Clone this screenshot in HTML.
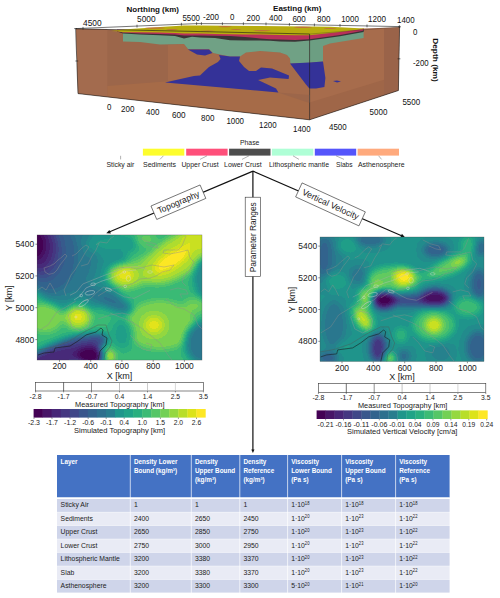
<!DOCTYPE html>
<html><head><meta charset="utf-8"><title>Figure</title>
<style>html,body{margin:0;padding:0;background:#fff;}body{width:500px;height:598px;overflow:hidden;font-family:"Liberation Sans", sans-serif;}svg{display:block;}text{font-family:"Liberation Sans", sans-serif;}</style></head><body>
<svg width="500" height="598" viewBox="0 0 500 598">
<rect width="500" height="598" fill="#fff"/>
<g id="box">
<polygon points="76.0,28.8 309.6,34.0 309.6,119.8 78.0,93.6" fill="#9C664A"/>
<polygon points="309.6,34.0 364.0,28.6 399.5,27.2 398.4,90.5 309.6,119.8" fill="#A76C4C"/>
<polygon points="76.0,28.8 107.4,29.5 107.4,96.9 78.0,93.6" fill="#A36B4E"/>
<polygon points="107.4,86.0 165.0,81.5 278.0,92.5 309.6,103.0 309.6,119.8 107.4,96.9" fill="#A66B48"/>
<polygon points="309.6,102.6 384.0,79.8 384.0,95.3 309.6,119.8" fill="#9F6648"/>
<polygon points="384.0,28.4 399.5,27.2 398.4,90.5 384.0,95.3" fill="#9A6349"/>
<polygon points="168.0,45.0 184.0,44.0 188.0,49.4 197.0,54.4 205.0,55.6 212.4,53.0 218.0,54.4 220.6,59.0 218.0,62.0 209.0,67.0 200.0,75.6 194.0,76.0 168.0,81.6" fill="#A56B4B"/>
<polygon points="246.0,52.6 260.0,51.0 280.0,52.6 287.0,55.0 290.0,58.4 290.4,63.6 298.0,74.0 306.0,84.4 309.4,88.4 309.4,95.0 278.4,92.4 276.0,88.4 258.0,80.0 270.0,77.6 288.6,79.0 289.0,75.6 272.0,68.4 261.0,67.6 256.0,71.0 249.0,71.0 244.0,67.0 239.0,61.0 240.0,56.6" fill="#A56B4B"/>
<polygon points="123.0,32.4 123.0,41.6 140.0,42.0 160.0,44.4 184.0,44.0 188.0,49.0 209.0,49.0 213.0,53.0 220.0,54.4 230.0,56.4 240.0,56.4 246.0,52.6 260.0,51.0 280.0,52.6 287.0,55.0 290.0,58.4 290.4,63.6 309.6,62.8 309.6,35.0 240.0,32.0 150.0,30.0" fill="#70A185"/>
<polygon points="309.6,34.0 309.6,62.8 323.0,61.6 323.0,46.0 330.0,43.6 363.6,38.0 363.6,30.0" fill="#6C9E82"/>
<polygon points="188.0,49.4 209.0,49.4 212.4,53.0 205.0,55.6 197.0,54.4" fill="#343298"/>
<polygon points="165.0,82.4 194.0,76.0 200.0,75.6 209.0,67.0 218.0,62.0 220.6,59.0 219.0,55.0 230.0,56.6 240.0,56.6 239.0,61.0 244.0,67.0 249.0,71.0 256.0,71.0 261.0,67.6 272.0,68.4 289.0,75.6 288.6,79.0 270.0,77.6 258.0,80.0 276.0,88.4 278.4,92.4" fill="#343298"/>
<polygon points="290.0,63.6 309.6,62.6 323.0,61.6 325.4,78.0 324.4,87.0 316.0,88.4 309.4,88.4 306.0,84.4 298.0,74.0" fill="#343298"/>
<polygon points="333.0,81.0 337.0,80.4 341.0,81.4 337.0,82.4" fill="#343298"/>
<polygon points="117.0,29.7 123.0,29.8 140.0,30.2 160.0,30.7 175.0,31.0 184.0,31.2 192.0,31.4 200.0,31.6 215.0,31.9 230.0,32.2 245.0,32.6 260.0,32.9 270.0,33.1 280.0,33.3 295.0,33.7 309.6,34.0 309.6,40.6 295.0,41.8 280.0,41.4 270.0,40.8 260.0,40.6 245.0,40.6 230.0,40.2 215.0,38.0 200.0,37.5 192.0,36.8 184.0,38.4 175.0,36.0 160.0,35.2 140.0,34.4 123.0,33.5 117.0,31.4" fill="#3A3436"/>
<polygon points="117.0,29.7 123.0,29.8 140.0,30.2 160.0,30.7 175.0,31.0 184.0,31.2 192.0,31.4 200.0,31.6 215.0,31.9 230.0,32.2 245.0,32.6 260.0,32.9 270.0,33.1 280.0,33.3 295.0,33.7 309.6,34.0 309.6,39.2 295.0,40.0 280.0,39.6 270.0,39.2 260.0,38.4 245.0,37.0 230.0,36.0 215.0,35.8 200.0,35.6 192.0,35.4 184.0,35.4 175.0,34.6 160.0,34.0 140.0,33.4 123.0,32.6 117.0,31.3" fill="#B8305A"/>
<polygon points="309.6,34.0 309.6,40.6 340.0,36.2 363.6,31.9 364.0,28.8" fill="#3A3436"/>
<polygon points="309.6,34.0 309.6,39.2 340.0,35.0 363.0,30.7 364.0,28.8" fill="#B8305A"/>
<polygon points="111.0,31.0 123.0,29.6 160.0,27.0 184.0,25.5 200.0,25.6 260.0,26.1 330.0,26.8 364.0,28.6 364.0,29.0 340.0,32.0 309.6,35.2 309.6,35.2 295.0,35.3 280.0,35.0 270.0,34.8 260.0,34.6 245.0,34.4 230.0,34.2 215.0,34.0 200.0,33.6 192.0,33.5 184.0,33.4 175.0,33.0 160.0,32.5 140.0,32.3 123.0,32.2 117.0,31.2" fill="#B7AC0E"/>
<ellipse cx="155" cy="28.0" rx="10" ry="0.8" fill="#C4445A" opacity="0.55"/>
<ellipse cx="172" cy="29.6" rx="6" ry="0.6" fill="#C4445A" opacity="0.55"/>
<ellipse cx="225" cy="26.6" rx="7" ry="0.6" fill="#C4445A" opacity="0.55"/>
<ellipse cx="303" cy="27.2" rx="9" ry="0.8" fill="#C4445A" opacity="0.55"/>
<ellipse cx="262" cy="30.6" rx="9" ry="0.6" fill="#C4445A" opacity="0.55"/>
<ellipse cx="236" cy="29.6" rx="5" ry="0.5" fill="#C4445A" opacity="0.55"/>
<ellipse cx="330" cy="28.4" rx="6" ry="0.5" fill="#C4445A" opacity="0.55"/>
<ellipse cx="208" cy="31.0" rx="7" ry="0.5" fill="#C4445A" opacity="0.55"/>
<polyline points="75.6,28.6 197.0,23.6 260.0,23.8 399.6,26.6" stroke="#1a1a1a" stroke-width="0.6" fill="none"/>
<polyline points="75.6,28.6 78.0,93.6 309.6,119.8 398.4,90.5 399.6,26.6" stroke="#1a1a1a" stroke-width="0.6" fill="none"/>
<polyline points="76.0,28.8 309.6,34.0 309.6,119.8" stroke="#1a1a1a" stroke-width="0.6" fill="none"/>
<polyline points="309.6,34.0 399.5,27.0" stroke="#1a1a1a" stroke-width="0.4" fill="none" opacity="0.6"/>
<line x1="83" y1="26.9" x2="83" y2="29.7" stroke="#1a1a1a" stroke-width="0.6"/>
<line x1="137" y1="24.7" x2="137" y2="27.5" stroke="#1a1a1a" stroke-width="0.6"/>
<line x1="181.4" y1="22.8" x2="181.4" y2="25.6" stroke="#1a1a1a" stroke-width="0.6"/>
<line x1="196.6" y1="22.2" x2="196.6" y2="25.0" stroke="#1a1a1a" stroke-width="0.6"/>
<line x1="201.4" y1="22.2" x2="201.4" y2="25.0" stroke="#1a1a1a" stroke-width="0.6"/>
<line x1="222.4" y1="22.3" x2="222.4" y2="25.1" stroke="#1a1a1a" stroke-width="0.6"/>
<line x1="243.4" y1="22.3" x2="243.4" y2="25.1" stroke="#1a1a1a" stroke-width="0.6"/>
<line x1="266" y1="22.5" x2="266" y2="25.3" stroke="#1a1a1a" stroke-width="0.6"/>
<line x1="289.4" y1="23.0" x2="289.4" y2="25.8" stroke="#1a1a1a" stroke-width="0.6"/>
<line x1="314.4" y1="23.5" x2="314.4" y2="26.3" stroke="#1a1a1a" stroke-width="0.6"/>
<line x1="340" y1="24.0" x2="340" y2="26.8" stroke="#1a1a1a" stroke-width="0.6"/>
<line x1="367" y1="24.5" x2="367" y2="27.3" stroke="#1a1a1a" stroke-width="0.6"/>
<line x1="399.4" y1="25.2" x2="399.4" y2="28.0" stroke="#1a1a1a" stroke-width="0.6"/>
<line x1="75.39999999999999" y1="61" x2="78.2" y2="61" stroke="#1a1a1a" stroke-width="0.6"/>
<line x1="397.6" y1="58.8" x2="400.4" y2="58.8" stroke="#1a1a1a" stroke-width="0.6"/>
<line x1="74.19999999999999" y1="28.6" x2="77.0" y2="28.6" stroke="#1a1a1a" stroke-width="0.6"/>
<line x1="398.20000000000005" y1="26.8" x2="401.0" y2="26.8" stroke="#1a1a1a" stroke-width="0.6"/>
<text x="83" y="26" font-size="8.3" text-anchor="start" font-weight="normal" fill="#111" textLength="18.6" lengthAdjust="spacingAndGlyphs" >4500</text>
<text x="137" y="22.4" font-size="8.3" text-anchor="start" font-weight="normal" fill="#111" textLength="18.6" lengthAdjust="spacingAndGlyphs" >5000</text>
<text x="182.4" y="21" font-size="8.3" text-anchor="start" font-weight="normal" fill="#111" textLength="17.6" lengthAdjust="spacingAndGlyphs" >5500</text>
<text x="203" y="20.2" font-size="8.3" text-anchor="start" font-weight="normal" fill="#111" textLength="16" lengthAdjust="spacingAndGlyphs" >-200</text>
<text x="230" y="20.2" font-size="8.3" text-anchor="start" font-weight="normal" fill="#111" textLength="4.4" lengthAdjust="spacingAndGlyphs" >0</text>
<text x="246.6" y="20.5" font-size="8.3" text-anchor="start" font-weight="normal" fill="#111" textLength="13.4" lengthAdjust="spacingAndGlyphs" >200</text>
<text x="269" y="21" font-size="8.3" text-anchor="start" font-weight="normal" fill="#111" textLength="13.4" lengthAdjust="spacingAndGlyphs" >400</text>
<text x="292.4" y="21.5" font-size="8.3" text-anchor="start" font-weight="normal" fill="#111" textLength="13.4" lengthAdjust="spacingAndGlyphs" >600</text>
<text x="317" y="21.7" font-size="8.3" text-anchor="start" font-weight="normal" fill="#111" textLength="13.4" lengthAdjust="spacingAndGlyphs" >800</text>
<text x="341.2" y="22" font-size="8.3" text-anchor="start" font-weight="normal" fill="#111" textLength="17.6" lengthAdjust="spacingAndGlyphs" >1000</text>
<text x="368" y="22.4" font-size="8.3" text-anchor="start" font-weight="normal" fill="#111" textLength="18" lengthAdjust="spacingAndGlyphs" >1200</text>
<text x="397" y="22.7" font-size="8.3" text-anchor="start" font-weight="normal" fill="#111" textLength="17.6" lengthAdjust="spacingAndGlyphs" >1400</text>
<text x="126.6" y="12.4" font-size="8" text-anchor="start" font-weight="bold" fill="#111" textLength="52.4" lengthAdjust="spacingAndGlyphs" >Northing (km)</text>
<text x="273" y="11.2" font-size="8" text-anchor="start" font-weight="bold" fill="#111" textLength="48.4" lengthAdjust="spacingAndGlyphs" >Easting (km)</text>
<text x="413" y="35.4" font-size="8.3" text-anchor="start" font-weight="normal" fill="#111" textLength="4.4" lengthAdjust="spacingAndGlyphs" >0</text>
<text x="413" y="66" font-size="8.3" text-anchor="start" font-weight="normal" fill="#111" textLength="15.6" lengthAdjust="spacingAndGlyphs" >-200</text>
<text x="402.4" y="104.6" font-size="8.3" text-anchor="start" font-weight="normal" fill="#111" textLength="17.8" lengthAdjust="spacingAndGlyphs" >5500</text>
<text x="369.6" y="115.4" font-size="8.3" text-anchor="start" font-weight="normal" fill="#111" textLength="17.8" lengthAdjust="spacingAndGlyphs" >5000</text>
<text x="329" y="129.6" font-size="8.3" text-anchor="start" font-weight="normal" fill="#111" textLength="17.6" lengthAdjust="spacingAndGlyphs" >4500</text>
<text x="107" y="109.6" font-size="8.3" text-anchor="start" font-weight="normal" fill="#111" textLength="4.4" lengthAdjust="spacingAndGlyphs" >0</text>
<text x="121" y="112.4" font-size="8.3" text-anchor="start" font-weight="normal" fill="#111" textLength="13.4" lengthAdjust="spacingAndGlyphs" >200</text>
<text x="146" y="115" font-size="8.3" text-anchor="start" font-weight="normal" fill="#111" textLength="13.4" lengthAdjust="spacingAndGlyphs" >400</text>
<text x="172" y="118" font-size="8.3" text-anchor="start" font-weight="normal" fill="#111" textLength="13.6" lengthAdjust="spacingAndGlyphs" >600</text>
<text x="201" y="121" font-size="8.3" text-anchor="start" font-weight="normal" fill="#111" textLength="13.4" lengthAdjust="spacingAndGlyphs" >800</text>
<text x="226.4" y="124" font-size="8.3" text-anchor="start" font-weight="normal" fill="#111" textLength="17.6" lengthAdjust="spacingAndGlyphs" >1000</text>
<text x="259" y="128" font-size="8.3" text-anchor="start" font-weight="normal" fill="#111" textLength="17.6" lengthAdjust="spacingAndGlyphs" >1200</text>
<text x="293" y="131.6" font-size="8.3" text-anchor="start" font-weight="normal" fill="#111" textLength="17.6" lengthAdjust="spacingAndGlyphs" >1400</text>
<text transform="translate(432.6,60) rotate(90)" font-size="8" font-weight="bold" text-anchor="middle" fill="#111" textLength="43.6" lengthAdjust="spacingAndGlyphs">Depth (km)</text>
</g>
<g id="legend">
<rect x="142.9" y="148.7" width="41.4" height="6.9" fill="#FDFD2D"/>
<rect x="186.2" y="148.7" width="41.4" height="6.9" fill="#FF4F7A"/>
<rect x="229.1" y="148.7" width="41.4" height="6.9" fill="#4D4D4D"/>
<rect x="271.9" y="148.7" width="41.4" height="6.9" fill="#AFFFD6"/>
<rect x="314.8" y="148.7" width="41.4" height="6.9" fill="#5555FB"/>
<rect x="357.6" y="148.7" width="41.4" height="6.9" fill="#FFAA7D"/>
<text x="249.7" y="145" font-size="7.8" text-anchor="middle" font-weight="normal" fill="#222" textLength="19.4" lengthAdjust="spacingAndGlyphs" >Phase</text>
<text x="106.4" y="166.6" font-size="7.6" text-anchor="start" font-weight="normal" fill="#222" textLength="28.0" lengthAdjust="spacingAndGlyphs" >Sticky air</text>
<text x="143" y="166.6" font-size="7.6" text-anchor="start" font-weight="normal" fill="#222" textLength="33" lengthAdjust="spacingAndGlyphs" >Sediments</text>
<text x="181.4" y="166.6" font-size="7.6" text-anchor="start" font-weight="normal" fill="#222" textLength="37.2" lengthAdjust="spacingAndGlyphs" >Upper Crust</text>
<text x="224" y="166.6" font-size="7.6" text-anchor="start" font-weight="normal" fill="#222" textLength="37.6" lengthAdjust="spacingAndGlyphs" >Lower Crust</text>
<text x="269" y="166.6" font-size="7.6" text-anchor="start" font-weight="normal" fill="#222" textLength="60" lengthAdjust="spacingAndGlyphs" >Lithospheric mantle</text>
<text x="336" y="166.6" font-size="7.6" text-anchor="start" font-weight="normal" fill="#222" textLength="16.6" lengthAdjust="spacingAndGlyphs" >Slabs</text>
<text x="358" y="166.6" font-size="7.6" text-anchor="start" font-weight="normal" fill="#222" textLength="46.6" lengthAdjust="spacingAndGlyphs" >Asthenosphere</text>
<line x1="120.6" y1="155.8" x2="120.6" y2="159.4" stroke="#666" stroke-width="0.5"/>
<line x1="163.4" y1="155.8" x2="160" y2="159.4" stroke="#666" stroke-width="0.5"/>
<line x1="207" y1="155.8" x2="200" y2="159.4" stroke="#666" stroke-width="0.5"/>
<line x1="249" y1="155.8" x2="242" y2="159.4" stroke="#666" stroke-width="0.5"/>
<line x1="293" y1="155.8" x2="299" y2="159.4" stroke="#666" stroke-width="0.5"/>
<line x1="336" y1="155.8" x2="344" y2="159.4" stroke="#666" stroke-width="0.5"/>
<line x1="378.6" y1="155.8" x2="381.6" y2="159.4" stroke="#666" stroke-width="0.5"/>
</g>
<g id="arrows">
<line x1="253" y1="171.1" x2="108.6" y2="232.3" stroke="#111" stroke-width="1.2"/>
<line x1="253" y1="171.1" x2="402.7" y2="236.2" stroke="#111" stroke-width="1.2"/>
<line x1="252.9" y1="171.1" x2="252.9" y2="450" stroke="#111" stroke-width="1.2"/>
<polygon points="106.3,233.3 110.9,233.4 109.4,229.9" fill="#111"/>
<polygon points="405.0,237.2 401.9,233.8 400.4,237.3" fill="#111"/>
<polygon points="252.9,453.0 254.5,449.4 251.3,449.4" fill="#111"/>
<g transform="translate(178.4,202.2) rotate(-23.2)"><rect x="-26.7" y="-7.3" width="53.4" height="14.6" fill="#fff" stroke="#333" stroke-width="0.6"/><text x="0" y="3.0" font-size="8.8" text-anchor="middle" font-weight="normal" fill="#222" textLength="45" lengthAdjust="spacingAndGlyphs" >Topography</text></g>
<g transform="translate(330.5,204.4) rotate(24.6)"><rect x="-34.8" y="-7.7" width="69.6" height="15.4" fill="#fff" stroke="#333" stroke-width="0.6"/><text x="0" y="3.0" font-size="8.8" text-anchor="middle" font-weight="normal" fill="#222" textLength="61.3" lengthAdjust="spacingAndGlyphs" >Vertical Velocity</text></g>
<rect x="245.2" y="197.2" width="15.3" height="79.3" fill="#fff" stroke="#333" stroke-width="0.6"/>
<g transform="translate(256,237.2) rotate(-90)"><text x="0" y="0" font-size="8.8" text-anchor="middle" font-weight="normal" fill="#222" textLength="70" lengthAdjust="spacingAndGlyphs" >Parameter Ranges</text></g>
</g>
<defs>
<clipPath id="cpL"><rect x="37.1" y="234.9" width="164.9" height="125.2"/></clipPath>
<clipPath id="cpR"><rect x="320" y="237" width="164" height="124.6"/></clipPath>
<filter id="fL" filterUnits="userSpaceOnUse" x="10" y="210" width="220" height="180" color-interpolation-filters="sRGB"><feGaussianBlur stdDeviation="3.6" result="b"/><feComponentTransfer><feFuncR type="discrete" tableValues="0.267 0.279 0.282 0.279 0.270 0.255 0.236 0.216 0.198 0.180 0.165 0.150 0.135 0.123 0.124 0.140 0.173 0.229 0.302 0.385 0.478 0.579 0.683 0.789 0.894 0.992"/><feFuncG type="discrete" tableValues="0.004 0.064 0.117 0.168 0.218 0.266 0.311 0.354 0.392 0.431 0.470 0.509 0.547 0.583 0.621 0.658 0.694 0.730 0.763 0.794 0.822 0.846 0.864 0.880 0.894 0.906"/><feFuncB type="discrete" tableValues="0.329 0.386 0.437 0.478 0.507 0.528 0.542 0.550 0.553 0.556 0.557 0.555 0.552 0.546 0.535 0.517 0.492 0.462 0.421 0.373 0.317 0.254 0.186 0.131 0.109 0.145"/></feComponentTransfer></filter>
<filter id="fR" filterUnits="userSpaceOnUse" x="295" y="210" width="215" height="180" color-interpolation-filters="sRGB"><feGaussianBlur stdDeviation="3.6" result="b"/><feComponentTransfer><feFuncR type="discrete" tableValues="0.267 0.279 0.282 0.279 0.270 0.255 0.236 0.216 0.198 0.180 0.165 0.150 0.135 0.123 0.124 0.140 0.173 0.229 0.302 0.385 0.478 0.579 0.683 0.789 0.894 0.992"/><feFuncG type="discrete" tableValues="0.004 0.064 0.117 0.168 0.218 0.266 0.311 0.354 0.392 0.431 0.470 0.509 0.547 0.583 0.621 0.658 0.694 0.730 0.763 0.794 0.822 0.846 0.864 0.880 0.894 0.906"/><feFuncB type="discrete" tableValues="0.329 0.386 0.437 0.478 0.507 0.528 0.542 0.550 0.553 0.556 0.557 0.555 0.552 0.546 0.535 0.517 0.492 0.462 0.421 0.373 0.317 0.254 0.186 0.131 0.109 0.145"/></feComponentTransfer></filter>
</defs>
<g clip-path="url(#cpL)">
<g filter="url(#fL)"><rect x="15" y="215" width="210" height="170" fill="rgb(168,168,168)"/><ellipse cx="77" cy="264" rx="50" ry="48" fill="rgb(128,128,128)" opacity="1" transform="rotate(0 77 264)"/><ellipse cx="60" cy="258" rx="38" ry="43" fill="rgb(107,107,107)" opacity="1" transform="rotate(0 60 258)"/><ellipse cx="50" cy="255" rx="27" ry="37" fill="rgb(82,82,82)" opacity="1" transform="rotate(0 50 255)"/><ellipse cx="43" cy="251" rx="19" ry="28" fill="rgb(56,56,56)" opacity="1" transform="rotate(0 43 251)"/><ellipse cx="39" cy="248" rx="15" ry="22" fill="rgb(28,28,28)" opacity="1" transform="rotate(0 39 248)"/><ellipse cx="36" cy="245" rx="9" ry="14" fill="rgb(0,0,0)" opacity="1" transform="rotate(0 36 245)"/><ellipse cx="112" cy="244" rx="26" ry="11" fill="rgb(138,138,138)" opacity="1" transform="rotate(0 112 244)"/><ellipse cx="146" cy="239" rx="11" ry="8" fill="rgb(189,189,189)" opacity="1" transform="rotate(0 146 239)"/><ellipse cx="150" cy="268" rx="30" ry="14" fill="rgb(199,199,199)" opacity="1" transform="rotate(-25 150 268)"/><ellipse cx="178" cy="256" rx="42" ry="20" fill="rgb(219,219,219)" opacity="1" transform="rotate(-33 178 256)"/><ellipse cx="195" cy="240" rx="14" ry="9" fill="rgb(235,235,235)" opacity="1" transform="rotate(0 195 240)"/><ellipse cx="172" cy="260" rx="21" ry="7.5" fill="rgb(255,255,255)" opacity="1" transform="rotate(-33 172 260)"/><ellipse cx="126" cy="276" rx="19" ry="13" fill="rgb(214,214,214)" opacity="1" transform="rotate(0 126 276)"/><ellipse cx="125" cy="275" rx="9" ry="7" fill="rgb(245,245,245)" opacity="1" transform="rotate(0 125 275)"/><ellipse cx="205" cy="278" rx="11" ry="20" fill="rgb(117,117,117)" opacity="1" transform="rotate(0 205 278)"/><ellipse cx="106" cy="299" rx="30" ry="8" fill="rgb(102,102,102)" opacity="1" transform="rotate(25 106 299)"/><ellipse cx="112" cy="301" rx="13" ry="8" fill="rgb(97,97,97)" opacity="1" transform="rotate(15 112 301)"/><ellipse cx="45" cy="318" rx="18" ry="15" fill="rgb(204,204,204)" opacity="1" transform="rotate(0 45 318)"/><ellipse cx="78" cy="317" rx="14" ry="12" fill="rgb(219,219,219)" opacity="1" transform="rotate(0 78 317)"/><ellipse cx="78" cy="317" rx="7" ry="6" fill="rgb(245,245,245)" opacity="1" transform="rotate(0 78 317)"/><ellipse cx="160" cy="325" rx="35" ry="25" fill="rgb(204,204,204)" opacity="1" transform="rotate(0 160 325)"/><ellipse cx="154" cy="325" rx="10" ry="9" fill="rgb(240,240,240)" opacity="1" transform="rotate(0 154 325)"/><ellipse cx="205" cy="343" rx="20" ry="22" fill="rgb(102,102,102)" opacity="1" transform="rotate(0 205 343)"/><ellipse cx="194" cy="306" rx="11" ry="8" fill="rgb(199,199,199)" opacity="1" transform="rotate(0 194 306)"/><ellipse cx="122" cy="334" rx="11" ry="15" fill="rgb(145,145,145)" opacity="1" transform="rotate(0 122 334)"/><ellipse cx="64" cy="353" rx="46" ry="12" fill="rgb(56,56,56)" opacity="1" transform="rotate(-20 64 353)"/><ellipse cx="60" cy="358" rx="40" ry="9" fill="rgb(31,31,31)" opacity="1" transform="rotate(-12 60 358)"/><ellipse cx="40" cy="362" rx="16" ry="7" fill="rgb(31,31,31)" opacity="1" transform="rotate(0 40 362)"/><ellipse cx="90" cy="356" rx="13" ry="10" fill="rgb(0,0,0)" opacity="1" transform="rotate(0 90 356)"/><ellipse cx="110" cy="356" rx="5" ry="5" fill="rgb(247,247,247)" opacity="1" transform="rotate(0 110 356)"/></g>
<g opacity="0.85"><polygon points="44.0,268.0 49.0,266.4 54.0,264.0 58.0,260.0 62.0,257.0 65.0,254.0 67.0,256.0 64.0,260.0 60.0,265.0 57.0,270.0 54.0,273.0 49.0,274.4 45.0,272.0" fill="none" stroke="#8e8e8e" stroke-width="0.5" stroke-linejoin="round"/><polyline points="72.0,256.0 76.0,254.0 82.0,248.0 86.0,245.0 89.0,247.0 85.0,253.0 81.0,260.0 78.0,265.0 75.0,270.0 71.0,275.0 68.0,282.0 64.0,290.0 66.0,296.0" fill="none" stroke="#8e8e8e" stroke-width="0.5" stroke-linejoin="round"/><polyline points="96.0,245.0 100.0,242.0 107.0,243.0 110.0,239.0 114.0,236.0" fill="none" stroke="#8e8e8e" stroke-width="0.5" stroke-linejoin="round"/><polyline points="81.0,266.0 88.0,264.0 92.0,256.0 96.0,250.0 99.0,243.0" fill="none" stroke="#8e8e8e" stroke-width="0.5" stroke-linejoin="round"/><polyline points="38.0,290.0 42.0,287.0 46.0,290.0 50.0,283.0 53.0,288.0 56.0,294.0" fill="none" stroke="#8e8e8e" stroke-width="0.5" stroke-linejoin="round"/><polyline points="186.0,236.0 182.0,246.0 178.0,250.0 164.0,250.0 163.0,253.0 170.0,254.0 180.0,252.0 188.0,250.0 190.0,258.0 194.0,262.0 190.0,270.0 184.0,276.0 182.0,282.0 186.0,286.0" fill="none" stroke="#8e8e8e" stroke-width="0.5" stroke-linejoin="round"/><polyline points="140.0,238.0 148.0,242.0 156.0,244.0 158.0,248.0 153.0,247.0 146.0,244.0" fill="none" stroke="#8e8e8e" stroke-width="0.5" stroke-linejoin="round"/><polyline points="110.0,270.0 118.0,268.0 128.0,267.0 136.0,269.0 144.0,267.0 152.0,265.0 158.0,266.0 164.0,267.0 174.0,265.0 170.0,270.0 162.0,272.0 156.0,276.0 150.0,278.0 140.0,279.0 132.0,284.0 120.0,287.0 108.0,290.0 98.0,296.0" fill="none" stroke="#8e8e8e" stroke-width="0.5" stroke-linejoin="round"/><polyline points="170.0,290.0 178.0,288.0 186.0,290.0 188.0,294.0 180.0,294.0 182.0,298.0" fill="none" stroke="#8e8e8e" stroke-width="0.5" stroke-linejoin="round"/><polyline points="38.0,355.0 44.0,353.0 54.0,352.0 55.0,348.0 70.0,346.0 78.0,341.0 86.0,335.0 96.0,332.0 101.0,328.0 103.0,330.0 102.0,335.0 107.0,338.0 106.0,345.0 100.0,351.0 98.0,360.0" fill="none" stroke="#1a1a1a" stroke-width="0.7" stroke-linejoin="round"/><polyline points="38.0,350.0 52.0,347.4 68.0,342.0 84.0,332.0 98.0,325.0 106.0,325.0 109.0,335.0 112.0,341.0 110.0,347.0 105.0,353.0 104.0,360.0" fill="none" stroke="#555" stroke-width="0.5" stroke-linejoin="round"/><polyline points="38.0,331.0 48.0,325.0 56.0,313.0 66.0,307.0 76.0,301.0" fill="none" stroke="#8e8e8e" stroke-width="0.5" stroke-linejoin="round"/><polygon points="68.0,315.0 76.0,309.0 86.0,311.0 90.0,319.0 88.0,327.0 80.0,331.0 72.0,327.0" fill="none" stroke="#9a9a9a" stroke-width="0.5" stroke-linejoin="round"/><polyline points="98.0,319.0 110.0,315.0 122.0,313.0 130.0,315.0" fill="none" stroke="#8e8e8e" stroke-width="0.5" stroke-linejoin="round"/><polyline points="106.0,353.0 110.0,349.0 114.0,353.0 115.0,360.0" fill="none" stroke="#8e8e8e" stroke-width="0.5" stroke-linejoin="round"/><polyline points="110.0,313.0 130.0,321.0 140.0,327.0 150.0,335.0 160.0,343.0 168.0,355.0 172.0,360.0" fill="none" stroke="#8e8e8e" stroke-width="0.5" stroke-linejoin="round"/><polyline points="166.0,299.0 176.0,307.0 184.0,309.0 194.0,315.0 198.0,325.0 202.0,329.0" fill="none" stroke="#8e8e8e" stroke-width="0.5" stroke-linejoin="round"/><polyline points="130.0,335.0 136.0,341.0 142.0,349.0 150.0,351.0 152.0,345.0 146.0,343.0" fill="none" stroke="#8e8e8e" stroke-width="0.5" stroke-linejoin="round"/><polyline points="70.0,295.2 76.4,292.0 82.8,284.0 90.8,280.8 98.8,277.6 106.8,274.4 116.4,271.2 124.4,268.0 137.2,266.4 146.8,269.6" fill="none" stroke="#a8a8a8" stroke-width="0.5" stroke-linejoin="round"/><polyline points="76.4,308.0 82.8,301.6 90.8,298.4 97.2,292.0 103.6,287.2 110.0,288.8 118.0,293.6 124.4,296.8 134.0,298.4 143.6,293.6 150.0,290.4" fill="none" stroke="#9a9a9a" stroke-width="0.5" stroke-linejoin="round"/><polyline points="74.0,300.0 80.0,296.0 86.0,288.0 94.0,284.5 102.0,281.0 110.0,278.5 118.0,275.0 126.0,271.0 136.0,270.0" fill="none" stroke="#c2c2c2" stroke-width="0.5" stroke-linejoin="round"/><ellipse cx="93.2" cy="284.3" rx="2.4" ry="1.3" fill="none" stroke="#dcdcdc" stroke-width="0.5" transform="rotate(0 93.2 284.3)"/><ellipse cx="90" cy="292.8" rx="4.8" ry="2" fill="none" stroke="#dcdcdc" stroke-width="0.5" transform="rotate(-10 90 292.8)"/><ellipse cx="83.6" cy="303.2" rx="5.6" ry="1.8" fill="none" stroke="#dcdcdc" stroke-width="0.5" transform="rotate(-35 83.6 303.2)"/><ellipse cx="108.4" cy="289.6" rx="3.2" ry="1.3" fill="none" stroke="#dcdcdc" stroke-width="0.5" transform="rotate(15 108.4 289.6)"/><ellipse cx="128.4" cy="278.4" rx="2.2" ry="2.8" fill="none" stroke="#dcdcdc" stroke-width="0.5" transform="rotate(0 128.4 278.4)"/><ellipse cx="125.2" cy="286.4" rx="1.3" ry="1.3" fill="none" stroke="#dcdcdc" stroke-width="0.5" transform="rotate(0 125.2 286.4)"/><ellipse cx="124.4" cy="272" rx="1.3" ry="1.3" fill="none" stroke="#dcdcdc" stroke-width="0.5" transform="rotate(0 124.4 272)"/><ellipse cx="81.2" cy="295.5" rx="1.3" ry="1.3" fill="none" stroke="#dcdcdc" stroke-width="0.5" transform="rotate(0 81.2 295.5)"/><ellipse cx="150" cy="272" rx="2.4" ry="1.2" fill="none" stroke="#dcdcdc" stroke-width="0.5" transform="rotate(0 150 272)"/><ellipse cx="76" cy="317" rx="1" ry="1" fill="none" stroke="#dcdcdc" stroke-width="0.5" transform="rotate(0 76 317)"/></g></g>
<g clip-path="url(#cpR)">
<g filter="url(#fR)"><rect x="298" y="215" width="210" height="170" fill="rgb(128,128,128)"/><ellipse cx="328" cy="262" rx="16" ry="28" fill="rgb(110,110,110)" opacity="1" transform="rotate(0 328 262)"/><ellipse cx="324" cy="256" rx="8" ry="20" fill="rgb(84,84,84)" opacity="1" transform="rotate(0 324 256)"/><ellipse cx="370" cy="240" rx="15" ry="6" fill="rgb(84,84,84)" opacity="1" transform="rotate(0 370 240)"/><ellipse cx="348" cy="246" rx="11" ry="7" fill="rgb(148,148,148)" opacity="1" transform="rotate(0 348 246)"/><ellipse cx="337" cy="281" rx="12" ry="9" fill="rgb(145,145,145)" opacity="1" transform="rotate(0 337 281)"/><ellipse cx="358" cy="275" rx="10" ry="10" fill="rgb(102,102,102)" opacity="1" transform="rotate(0 358 275)"/><ellipse cx="394" cy="279" rx="27" ry="13" fill="rgb(189,189,189)" opacity="1" transform="rotate(0 394 279)"/><ellipse cx="377" cy="287" rx="9" ry="8" fill="rgb(204,204,204)" opacity="1" transform="rotate(-40 377 287)"/><ellipse cx="366" cy="298" rx="7" ry="10" fill="rgb(209,209,209)" opacity="1" transform="rotate(-20 366 298)"/><ellipse cx="428" cy="275" rx="12" ry="5" fill="rgb(173,173,173)" opacity="1" transform="rotate(-15 428 275)"/><ellipse cx="450" cy="266" rx="22" ry="8" fill="rgb(191,191,191)" opacity="1" transform="rotate(-25 450 266)"/><ellipse cx="459" cy="262" rx="8" ry="5" fill="rgb(217,217,217)" opacity="1" transform="rotate(-25 459 262)"/><ellipse cx="468" cy="245" rx="8" ry="10" fill="rgb(166,166,166)" opacity="1" transform="rotate(0 468 245)"/><ellipse cx="404" cy="277" rx="10" ry="8" fill="rgb(255,255,255)" opacity="1" transform="rotate(0 404 277)"/><ellipse cx="436" cy="250" rx="13" ry="7" fill="rgb(76,76,76)" opacity="1" transform="rotate(0 436 250)"/><ellipse cx="481" cy="248" rx="5" ry="8" fill="rgb(76,76,76)" opacity="1" transform="rotate(0 481 248)"/><ellipse cx="479" cy="284" rx="8" ry="15" fill="rgb(76,76,76)" opacity="1" transform="rotate(0 479 284)"/><ellipse cx="410" cy="300.5" rx="38" ry="5.5" fill="rgb(51,51,51)" opacity="1" transform="rotate(0 410 300.5)"/><ellipse cx="384" cy="300" rx="12" ry="9" fill="rgb(0,0,0)" opacity="1" transform="rotate(0 384 300)"/><ellipse cx="435" cy="298" rx="15" ry="8.5" fill="rgb(10,10,10)" opacity="1" transform="rotate(0 435 298)"/><ellipse cx="363" cy="317" rx="10" ry="16" fill="rgb(178,178,178)" opacity="1" transform="rotate(-30 363 317)"/><ellipse cx="363" cy="319" rx="5.5" ry="12" fill="rgb(235,235,235)" opacity="1" transform="rotate(-30 363 319)"/><ellipse cx="434" cy="325" rx="22" ry="16" fill="rgb(178,178,178)" opacity="1" transform="rotate(0 434 325)"/><ellipse cx="434" cy="325" rx="9" ry="8" fill="rgb(237,237,237)" opacity="1" transform="rotate(0 434 325)"/><ellipse cx="468" cy="307" rx="14" ry="10" fill="rgb(173,173,173)" opacity="1" transform="rotate(0 468 307)"/><ellipse cx="478" cy="347" rx="12" ry="16" fill="rgb(82,82,82)" opacity="1" transform="rotate(0 478 347)"/><ellipse cx="378" cy="348" rx="8" ry="14" fill="rgb(38,38,38)" opacity="1" transform="rotate(0 378 348)"/><ellipse cx="390" cy="358" rx="4.5" ry="4.5" fill="rgb(245,245,245)" opacity="1" transform="rotate(0 390 358)"/><ellipse cx="401" cy="335" rx="7" ry="8" fill="rgb(168,168,168)" opacity="1" transform="rotate(0 401 335)"/><ellipse cx="334" cy="325" rx="12" ry="25" fill="rgb(102,102,102)" opacity="1" transform="rotate(0 334 325)"/><ellipse cx="346" cy="347" rx="10" ry="6" fill="rgb(140,140,140)" opacity="1" transform="rotate(0 346 347)"/><ellipse cx="328" cy="358" rx="10" ry="6" fill="rgb(76,76,76)" opacity="1" transform="rotate(0 328 358)"/><ellipse cx="404" cy="356" rx="6" ry="6" fill="rgb(84,84,84)" opacity="1" transform="rotate(0 404 356)"/><ellipse cx="441" cy="353" rx="10" ry="8" fill="rgb(107,107,107)" opacity="1" transform="rotate(0 441 353)"/></g>
<g opacity="0.8" transform="translate(282.7,1.9)"><polygon points="44.0,268.0 49.0,266.4 54.0,264.0 58.0,260.0 62.0,257.0 65.0,254.0 67.0,256.0 64.0,260.0 60.0,265.0 57.0,270.0 54.0,273.0 49.0,274.4 45.0,272.0" fill="none" stroke="#8e8e8e" stroke-width="0.5" stroke-linejoin="round"/><polyline points="72.0,256.0 76.0,254.0 82.0,248.0 86.0,245.0 89.0,247.0 85.0,253.0 81.0,260.0 78.0,265.0 75.0,270.0 71.0,275.0 68.0,282.0 64.0,290.0 66.0,296.0" fill="none" stroke="#8e8e8e" stroke-width="0.5" stroke-linejoin="round"/><polyline points="96.0,245.0 100.0,242.0 107.0,243.0 110.0,239.0 114.0,236.0" fill="none" stroke="#8e8e8e" stroke-width="0.5" stroke-linejoin="round"/><polyline points="81.0,266.0 88.0,264.0 92.0,256.0 96.0,250.0 99.0,243.0" fill="none" stroke="#8e8e8e" stroke-width="0.5" stroke-linejoin="round"/><polyline points="38.0,290.0 42.0,287.0 46.0,290.0 50.0,283.0 53.0,288.0 56.0,294.0" fill="none" stroke="#8e8e8e" stroke-width="0.5" stroke-linejoin="round"/><polyline points="186.0,236.0 182.0,246.0 178.0,250.0 164.0,250.0 163.0,253.0 170.0,254.0 180.0,252.0 188.0,250.0 190.0,258.0 194.0,262.0 190.0,270.0 184.0,276.0 182.0,282.0 186.0,286.0" fill="none" stroke="#8e8e8e" stroke-width="0.5" stroke-linejoin="round"/><polyline points="140.0,238.0 148.0,242.0 156.0,244.0 158.0,248.0 153.0,247.0 146.0,244.0" fill="none" stroke="#8e8e8e" stroke-width="0.5" stroke-linejoin="round"/><polyline points="110.0,270.0 118.0,268.0 128.0,267.0 136.0,269.0 144.0,267.0 152.0,265.0 158.0,266.0 164.0,267.0 174.0,265.0 170.0,270.0 162.0,272.0 156.0,276.0 150.0,278.0 140.0,279.0 132.0,284.0 120.0,287.0 108.0,290.0 98.0,296.0" fill="none" stroke="#8e8e8e" stroke-width="0.5" stroke-linejoin="round"/><polyline points="170.0,290.0 178.0,288.0 186.0,290.0 188.0,294.0 180.0,294.0 182.0,298.0" fill="none" stroke="#8e8e8e" stroke-width="0.5" stroke-linejoin="round"/><polyline points="38.0,355.0 44.0,353.0 54.0,352.0 55.0,348.0 70.0,346.0 78.0,341.0 86.0,335.0 96.0,332.0 101.0,328.0 103.0,330.0 102.0,335.0 107.0,338.0 106.0,345.0 100.0,351.0 98.0,360.0" fill="none" stroke="#1a1a1a" stroke-width="0.7" stroke-linejoin="round"/><polyline points="38.0,350.0 52.0,347.4 68.0,342.0 84.0,332.0 98.0,325.0 106.0,325.0 109.0,335.0 112.0,341.0 110.0,347.0 105.0,353.0 104.0,360.0" fill="none" stroke="#555" stroke-width="0.5" stroke-linejoin="round"/><polyline points="38.0,331.0 48.0,325.0 56.0,313.0 66.0,307.0 76.0,301.0" fill="none" stroke="#8e8e8e" stroke-width="0.5" stroke-linejoin="round"/><polygon points="68.0,315.0 76.0,309.0 86.0,311.0 90.0,319.0 88.0,327.0 80.0,331.0 72.0,327.0" fill="none" stroke="#9a9a9a" stroke-width="0.5" stroke-linejoin="round"/><polyline points="98.0,319.0 110.0,315.0 122.0,313.0 130.0,315.0" fill="none" stroke="#8e8e8e" stroke-width="0.5" stroke-linejoin="round"/><polyline points="106.0,353.0 110.0,349.0 114.0,353.0 115.0,360.0" fill="none" stroke="#8e8e8e" stroke-width="0.5" stroke-linejoin="round"/><polyline points="110.0,313.0 130.0,321.0 140.0,327.0 150.0,335.0 160.0,343.0 168.0,355.0 172.0,360.0" fill="none" stroke="#8e8e8e" stroke-width="0.5" stroke-linejoin="round"/><polyline points="166.0,299.0 176.0,307.0 184.0,309.0 194.0,315.0 198.0,325.0 202.0,329.0" fill="none" stroke="#8e8e8e" stroke-width="0.5" stroke-linejoin="round"/><polyline points="130.0,335.0 136.0,341.0 142.0,349.0 150.0,351.0 152.0,345.0 146.0,343.0" fill="none" stroke="#8e8e8e" stroke-width="0.5" stroke-linejoin="round"/><polyline points="70.0,295.2 76.4,292.0 82.8,284.0 90.8,280.8 98.8,277.6 106.8,274.4 116.4,271.2 124.4,268.0 137.2,266.4 146.8,269.6" fill="none" stroke="#a8a8a8" stroke-width="0.5" stroke-linejoin="round"/><polyline points="76.4,308.0 82.8,301.6 90.8,298.4 97.2,292.0 103.6,287.2 110.0,288.8 118.0,293.6 124.4,296.8 134.0,298.4 143.6,293.6 150.0,290.4" fill="none" stroke="#9a9a9a" stroke-width="0.5" stroke-linejoin="round"/><polyline points="74.0,300.0 80.0,296.0 86.0,288.0 94.0,284.5 102.0,281.0 110.0,278.5 118.0,275.0 126.0,271.0 136.0,270.0" fill="none" stroke="#c2c2c2" stroke-width="0.5" stroke-linejoin="round"/><ellipse cx="93.2" cy="284.3" rx="2.4" ry="1.3" fill="none" stroke="#dcdcdc" stroke-width="0.5" transform="rotate(0 93.2 284.3)"/><ellipse cx="90" cy="292.8" rx="4.8" ry="2" fill="none" stroke="#dcdcdc" stroke-width="0.5" transform="rotate(-10 90 292.8)"/><ellipse cx="83.6" cy="303.2" rx="5.6" ry="1.8" fill="none" stroke="#dcdcdc" stroke-width="0.5" transform="rotate(-35 83.6 303.2)"/><ellipse cx="108.4" cy="289.6" rx="3.2" ry="1.3" fill="none" stroke="#dcdcdc" stroke-width="0.5" transform="rotate(15 108.4 289.6)"/><ellipse cx="128.4" cy="278.4" rx="2.2" ry="2.8" fill="none" stroke="#dcdcdc" stroke-width="0.5" transform="rotate(0 128.4 278.4)"/><ellipse cx="125.2" cy="286.4" rx="1.3" ry="1.3" fill="none" stroke="#dcdcdc" stroke-width="0.5" transform="rotate(0 125.2 286.4)"/><ellipse cx="124.4" cy="272" rx="1.3" ry="1.3" fill="none" stroke="#dcdcdc" stroke-width="0.5" transform="rotate(0 124.4 272)"/><ellipse cx="81.2" cy="295.5" rx="1.3" ry="1.3" fill="none" stroke="#dcdcdc" stroke-width="0.5" transform="rotate(0 81.2 295.5)"/><ellipse cx="150" cy="272" rx="2.4" ry="1.2" fill="none" stroke="#dcdcdc" stroke-width="0.5" transform="rotate(0 150 272)"/><ellipse cx="76" cy="317" rx="1" ry="1" fill="none" stroke="#dcdcdc" stroke-width="0.5" transform="rotate(0 76 317)"/></g></g>
<rect x="37.1" y="234.9" width="164.9" height="125.2" fill="none" stroke="#444" stroke-width="0.4" opacity="0.7"/>
<rect x="320" y="237" width="164" height="124.6" fill="none" stroke="#444" stroke-width="0.4" opacity="0.7"/>
<text x="34.2" y="247.2" font-size="8.4" text-anchor="end" font-weight="normal" fill="#1a1a1a" textLength="18.8" lengthAdjust="spacingAndGlyphs" >5400</text>
<line x1="35.4" y1="244.2" x2="37.1" y2="244.2" stroke="#222" stroke-width="0.5"/>
<text x="34.2" y="278.9" font-size="8.4" text-anchor="end" font-weight="normal" fill="#1a1a1a" textLength="18.8" lengthAdjust="spacingAndGlyphs" >5200</text>
<line x1="35.4" y1="275.9" x2="37.1" y2="275.9" stroke="#222" stroke-width="0.5"/>
<text x="34.2" y="310.7" font-size="8.4" text-anchor="end" font-weight="normal" fill="#1a1a1a" textLength="18.8" lengthAdjust="spacingAndGlyphs" >5000</text>
<line x1="35.4" y1="307.7" x2="37.1" y2="307.7" stroke="#222" stroke-width="0.5"/>
<text x="34.2" y="342.6" font-size="8.4" text-anchor="end" font-weight="normal" fill="#1a1a1a" textLength="18.8" lengthAdjust="spacingAndGlyphs" >4800</text>
<line x1="35.4" y1="339.6" x2="37.1" y2="339.6" stroke="#222" stroke-width="0.5"/>
<text x="59.5" y="369.2" font-size="8.4" text-anchor="middle" font-weight="normal" fill="#1a1a1a" textLength="14.1" lengthAdjust="spacingAndGlyphs" >200</text>
<line x1="59.5" y1="360.1" x2="59.5" y2="361.8" stroke="#222" stroke-width="0.5"/>
<text x="90.7" y="369.2" font-size="8.4" text-anchor="middle" font-weight="normal" fill="#1a1a1a" textLength="14.1" lengthAdjust="spacingAndGlyphs" >400</text>
<line x1="90.7" y1="360.1" x2="90.7" y2="361.8" stroke="#222" stroke-width="0.5"/>
<text x="121.9" y="369.2" font-size="8.4" text-anchor="middle" font-weight="normal" fill="#1a1a1a" textLength="14.1" lengthAdjust="spacingAndGlyphs" >600</text>
<line x1="121.9" y1="360.1" x2="121.9" y2="361.8" stroke="#222" stroke-width="0.5"/>
<text x="153.2" y="369.2" font-size="8.4" text-anchor="middle" font-weight="normal" fill="#1a1a1a" textLength="14.1" lengthAdjust="spacingAndGlyphs" >800</text>
<line x1="153.2" y1="360.1" x2="153.2" y2="361.8" stroke="#222" stroke-width="0.5"/>
<text x="184.4" y="369.2" font-size="8.4" text-anchor="middle" font-weight="normal" fill="#1a1a1a" textLength="18.8" lengthAdjust="spacingAndGlyphs" >1000</text>
<line x1="184.4" y1="360.1" x2="184.4" y2="361.8" stroke="#222" stroke-width="0.5"/>
<text x="119.5" y="379.2" font-size="8.4" text-anchor="middle" font-weight="normal" fill="#1a1a1a" textLength="25.5" lengthAdjust="spacingAndGlyphs" >X [km]</text>
<g transform="translate(11.8,298) rotate(-90)"><text x="0" y="0" font-size="8.4" text-anchor="middle" font-weight="normal" fill="#1a1a1a" textLength="25.5" lengthAdjust="spacingAndGlyphs" >Y [km]</text></g>
<text x="317.1" y="249.1" font-size="8.4" text-anchor="end" font-weight="normal" fill="#1a1a1a" textLength="18.8" lengthAdjust="spacingAndGlyphs" >5400</text>
<line x1="318.3" y1="246.1" x2="320" y2="246.1" stroke="#222" stroke-width="0.5"/>
<text x="317.1" y="280.8" font-size="8.4" text-anchor="end" font-weight="normal" fill="#1a1a1a" textLength="18.8" lengthAdjust="spacingAndGlyphs" >5200</text>
<line x1="318.3" y1="277.8" x2="320" y2="277.8" stroke="#222" stroke-width="0.5"/>
<text x="317.1" y="312.5" font-size="8.4" text-anchor="end" font-weight="normal" fill="#1a1a1a" textLength="18.8" lengthAdjust="spacingAndGlyphs" >5000</text>
<line x1="318.3" y1="309.5" x2="320" y2="309.5" stroke="#222" stroke-width="0.5"/>
<text x="317.1" y="344.3" font-size="8.4" text-anchor="end" font-weight="normal" fill="#1a1a1a" textLength="18.8" lengthAdjust="spacingAndGlyphs" >4800</text>
<line x1="318.3" y1="341.3" x2="320" y2="341.3" stroke="#222" stroke-width="0.5"/>
<text x="342" y="371" font-size="8.4" text-anchor="middle" font-weight="normal" fill="#1a1a1a" textLength="14.1" lengthAdjust="spacingAndGlyphs" >200</text>
<line x1="342" y1="361.6" x2="342" y2="363.3" stroke="#222" stroke-width="0.5"/>
<text x="373.3" y="371" font-size="8.4" text-anchor="middle" font-weight="normal" fill="#1a1a1a" textLength="14.1" lengthAdjust="spacingAndGlyphs" >400</text>
<line x1="373.3" y1="361.6" x2="373.3" y2="363.3" stroke="#222" stroke-width="0.5"/>
<text x="404.7" y="371" font-size="8.4" text-anchor="middle" font-weight="normal" fill="#1a1a1a" textLength="14.1" lengthAdjust="spacingAndGlyphs" >600</text>
<line x1="404.7" y1="361.6" x2="404.7" y2="363.3" stroke="#222" stroke-width="0.5"/>
<text x="436" y="371" font-size="8.4" text-anchor="middle" font-weight="normal" fill="#1a1a1a" textLength="14.1" lengthAdjust="spacingAndGlyphs" >800</text>
<line x1="436" y1="361.6" x2="436" y2="363.3" stroke="#222" stroke-width="0.5"/>
<text x="467.4" y="371" font-size="8.4" text-anchor="middle" font-weight="normal" fill="#1a1a1a" textLength="18.8" lengthAdjust="spacingAndGlyphs" >1000</text>
<line x1="467.4" y1="361.6" x2="467.4" y2="363.3" stroke="#222" stroke-width="0.5"/>
<text x="402" y="380.3" font-size="8.4" text-anchor="middle" font-weight="normal" fill="#1a1a1a" textLength="25.5" lengthAdjust="spacingAndGlyphs" >X [km]</text>
<g transform="translate(295,299.5) rotate(-90)"><text x="0" y="0" font-size="8.4" text-anchor="middle" font-weight="normal" fill="#1a1a1a" textLength="25.5" lengthAdjust="spacingAndGlyphs" >Y [km]</text></g>
<rect x="35.6" y="382.4" width="167.8" height="8.6" fill="#fff" stroke="#333" stroke-width="0.6"/>
<line x1="35.6" y1="391" x2="35.6" y2="392.4" stroke="#333" stroke-width="0.5"/>
<text x="35.6" y="398.8" font-size="6.6" text-anchor="middle" font-weight="normal" fill="#1a1a1a" textLength="12" lengthAdjust="spacingAndGlyphs" >-2.8</text>
<line x1="63.6" y1="382.4" x2="63.6" y2="391" stroke="#111" stroke-width="0.6"/>
<line x1="63.6" y1="391" x2="63.6" y2="392.4" stroke="#333" stroke-width="0.5"/>
<text x="63.6" y="398.8" font-size="6.6" text-anchor="middle" font-weight="normal" fill="#1a1a1a" textLength="12" lengthAdjust="spacingAndGlyphs" >-1.7</text>
<line x1="91.5" y1="382.4" x2="91.5" y2="391" stroke="#444" stroke-width="0.6"/>
<line x1="91.5" y1="391" x2="91.5" y2="392.4" stroke="#333" stroke-width="0.5"/>
<text x="91.5" y="398.8" font-size="6.6" text-anchor="middle" font-weight="normal" fill="#1a1a1a" textLength="12" lengthAdjust="spacingAndGlyphs" >-0.7</text>
<line x1="119.5" y1="382.4" x2="119.5" y2="391" stroke="#999" stroke-width="0.6"/>
<line x1="119.5" y1="391" x2="119.5" y2="392.4" stroke="#333" stroke-width="0.5"/>
<text x="119.5" y="398.8" font-size="6.6" text-anchor="middle" font-weight="normal" fill="#1a1a1a" textLength="9.4" lengthAdjust="spacingAndGlyphs" >0.4</text>
<line x1="147.5" y1="382.4" x2="147.5" y2="391" stroke="#aaa" stroke-width="0.6"/>
<line x1="147.5" y1="391" x2="147.5" y2="392.4" stroke="#333" stroke-width="0.5"/>
<text x="147.5" y="398.8" font-size="6.6" text-anchor="middle" font-weight="normal" fill="#1a1a1a" textLength="9.4" lengthAdjust="spacingAndGlyphs" >1.4</text>
<line x1="175.4" y1="382.4" x2="175.4" y2="391" stroke="#bbb" stroke-width="0.6"/>
<line x1="175.4" y1="391" x2="175.4" y2="392.4" stroke="#333" stroke-width="0.5"/>
<text x="175.4" y="398.8" font-size="6.6" text-anchor="middle" font-weight="normal" fill="#1a1a1a" textLength="9.4" lengthAdjust="spacingAndGlyphs" >2.5</text>
<line x1="203.4" y1="391" x2="203.4" y2="392.4" stroke="#333" stroke-width="0.5"/>
<text x="203.4" y="398.8" font-size="6.6" text-anchor="middle" font-weight="normal" fill="#1a1a1a" textLength="9.4" lengthAdjust="spacingAndGlyphs" >3.5</text>
<text x="119.8" y="406.6" font-size="7" text-anchor="middle" font-weight="normal" fill="#1a1a1a" textLength="89.5" lengthAdjust="spacingAndGlyphs" >Measured Topography [km]</text>
<rect x="318.4" y="383.6" width="167.4" height="9.0" fill="#fff" stroke="#333" stroke-width="0.6"/>
<line x1="318.4" y1="392.6" x2="318.4" y2="394.0" stroke="#333" stroke-width="0.5"/>
<text x="318.4" y="400.2" font-size="6.6" text-anchor="middle" font-weight="normal" fill="#1a1a1a" textLength="12" lengthAdjust="spacingAndGlyphs" >-2.8</text>
<line x1="346.3" y1="383.6" x2="346.3" y2="392.6" stroke="#111" stroke-width="0.6"/>
<line x1="346.3" y1="392.6" x2="346.3" y2="394.0" stroke="#333" stroke-width="0.5"/>
<text x="346.3" y="400.2" font-size="6.6" text-anchor="middle" font-weight="normal" fill="#1a1a1a" textLength="12" lengthAdjust="spacingAndGlyphs" >-1.7</text>
<line x1="374.2" y1="383.6" x2="374.2" y2="392.6" stroke="#444" stroke-width="0.6"/>
<line x1="374.2" y1="392.6" x2="374.2" y2="394.0" stroke="#333" stroke-width="0.5"/>
<text x="374.2" y="400.2" font-size="6.6" text-anchor="middle" font-weight="normal" fill="#1a1a1a" textLength="12" lengthAdjust="spacingAndGlyphs" >-0.7</text>
<line x1="402.1" y1="383.6" x2="402.1" y2="392.6" stroke="#999" stroke-width="0.6"/>
<line x1="402.1" y1="392.6" x2="402.1" y2="394.0" stroke="#333" stroke-width="0.5"/>
<text x="402.1" y="400.2" font-size="6.6" text-anchor="middle" font-weight="normal" fill="#1a1a1a" textLength="9.4" lengthAdjust="spacingAndGlyphs" >0.4</text>
<line x1="430.0" y1="383.6" x2="430.0" y2="392.6" stroke="#aaa" stroke-width="0.6"/>
<line x1="430.0" y1="392.6" x2="430.0" y2="394.0" stroke="#333" stroke-width="0.5"/>
<text x="430.0" y="400.2" font-size="6.6" text-anchor="middle" font-weight="normal" fill="#1a1a1a" textLength="9.4" lengthAdjust="spacingAndGlyphs" >1.4</text>
<line x1="457.9" y1="383.6" x2="457.9" y2="392.6" stroke="#bbb" stroke-width="0.6"/>
<line x1="457.9" y1="392.6" x2="457.9" y2="394.0" stroke="#333" stroke-width="0.5"/>
<text x="457.9" y="400.2" font-size="6.6" text-anchor="middle" font-weight="normal" fill="#1a1a1a" textLength="9.4" lengthAdjust="spacingAndGlyphs" >2.5</text>
<line x1="485.8" y1="392.6" x2="485.8" y2="394.0" stroke="#333" stroke-width="0.5"/>
<text x="485.8" y="400.2" font-size="6.6" text-anchor="middle" font-weight="normal" fill="#1a1a1a" textLength="9.4" lengthAdjust="spacingAndGlyphs" >3.5</text>
<text x="402.7" y="407.8" font-size="7" text-anchor="middle" font-weight="normal" fill="#1a1a1a" textLength="89.5" lengthAdjust="spacingAndGlyphs" >Measured Topography [km]</text>
<rect x="33.60" y="409" width="9.34" height="8.6" fill="#440154"/>
<rect x="42.64" y="409" width="9.34" height="8.6" fill="#481567"/>
<rect x="51.68" y="409" width="9.34" height="8.6" fill="#482677"/>
<rect x="60.73" y="409" width="9.34" height="8.6" fill="#453781"/>
<rect x="69.77" y="409" width="9.34" height="8.6" fill="#404788"/>
<rect x="78.81" y="409" width="9.34" height="8.6" fill="#39568C"/>
<rect x="87.85" y="409" width="9.34" height="8.6" fill="#33638D"/>
<rect x="96.89" y="409" width="9.34" height="8.6" fill="#2D708E"/>
<rect x="105.94" y="409" width="9.34" height="8.6" fill="#287D8E"/>
<rect x="114.98" y="409" width="9.34" height="8.6" fill="#1F968B"/>
<rect x="124.02" y="409" width="9.34" height="8.6" fill="#20A387"/>
<rect x="133.06" y="409" width="9.34" height="8.6" fill="#29AF7F"/>
<rect x="142.11" y="409" width="9.34" height="8.6" fill="#3CBB75"/>
<rect x="151.15" y="409" width="9.34" height="8.6" fill="#55C667"/>
<rect x="160.19" y="409" width="9.34" height="8.6" fill="#73D055"/>
<rect x="169.23" y="409" width="9.34" height="8.6" fill="#95D840"/>
<rect x="178.27" y="409" width="9.34" height="8.6" fill="#B8DE29"/>
<rect x="187.32" y="409" width="9.34" height="8.6" fill="#DCE319"/>
<rect x="196.36" y="409" width="9.34" height="8.6" fill="#FDE725"/>
<line x1="34.0" y1="417.6" x2="34.0" y2="419.0" stroke="#333" stroke-width="0.5"/>
<text x="34.0" y="425.2" font-size="6.6" text-anchor="middle" font-weight="normal" fill="#1a1a1a" textLength="12" lengthAdjust="spacingAndGlyphs" >-2.3</text>
<line x1="52.0" y1="417.6" x2="52.0" y2="419.0" stroke="#333" stroke-width="0.5"/>
<text x="52.0" y="425.2" font-size="6.6" text-anchor="middle" font-weight="normal" fill="#1a1a1a" textLength="12" lengthAdjust="spacingAndGlyphs" >-1.7</text>
<line x1="70.1" y1="417.6" x2="70.1" y2="419.0" stroke="#333" stroke-width="0.5"/>
<text x="70.1" y="425.2" font-size="6.6" text-anchor="middle" font-weight="normal" fill="#1a1a1a" textLength="12" lengthAdjust="spacingAndGlyphs" >-1.2</text>
<line x1="88.2" y1="417.6" x2="88.2" y2="419.0" stroke="#333" stroke-width="0.5"/>
<text x="88.2" y="425.2" font-size="6.6" text-anchor="middle" font-weight="normal" fill="#1a1a1a" textLength="12" lengthAdjust="spacingAndGlyphs" >-0.6</text>
<line x1="106.2" y1="417.6" x2="106.2" y2="419.0" stroke="#333" stroke-width="0.5"/>
<text x="106.2" y="425.2" font-size="6.6" text-anchor="middle" font-weight="normal" fill="#1a1a1a" textLength="12" lengthAdjust="spacingAndGlyphs" >-0.1</text>
<line x1="124.2" y1="417.6" x2="124.2" y2="419.0" stroke="#333" stroke-width="0.5"/>
<text x="124.2" y="425.2" font-size="6.6" text-anchor="middle" font-weight="normal" fill="#1a1a1a" textLength="9.4" lengthAdjust="spacingAndGlyphs" >0.4</text>
<line x1="142.3" y1="417.6" x2="142.3" y2="419.0" stroke="#333" stroke-width="0.5"/>
<text x="142.3" y="425.2" font-size="6.6" text-anchor="middle" font-weight="normal" fill="#1a1a1a" textLength="9.4" lengthAdjust="spacingAndGlyphs" >1.0</text>
<line x1="160.4" y1="417.6" x2="160.4" y2="419.0" stroke="#333" stroke-width="0.5"/>
<text x="160.4" y="425.2" font-size="6.6" text-anchor="middle" font-weight="normal" fill="#1a1a1a" textLength="9.4" lengthAdjust="spacingAndGlyphs" >1.5</text>
<line x1="178.4" y1="417.6" x2="178.4" y2="419.0" stroke="#333" stroke-width="0.5"/>
<text x="178.4" y="425.2" font-size="6.6" text-anchor="middle" font-weight="normal" fill="#1a1a1a" textLength="9.4" lengthAdjust="spacingAndGlyphs" >2.0</text>
<line x1="196.5" y1="417.6" x2="196.5" y2="419.0" stroke="#333" stroke-width="0.5"/>
<text x="196.5" y="425.2" font-size="6.6" text-anchor="middle" font-weight="normal" fill="#1a1a1a" textLength="9.4" lengthAdjust="spacingAndGlyphs" >2.6</text>
<text x="119.5" y="433.0" font-size="7" text-anchor="middle" font-weight="normal" fill="#1a1a1a" textLength="91" lengthAdjust="spacingAndGlyphs" >Simulated Topography [km]</text>
<rect x="316.60" y="410.4" width="9.29" height="8.6" fill="#440154"/>
<rect x="325.59" y="410.4" width="9.29" height="8.6" fill="#481567"/>
<rect x="334.58" y="410.4" width="9.29" height="8.6" fill="#482677"/>
<rect x="343.57" y="410.4" width="9.29" height="8.6" fill="#453781"/>
<rect x="352.56" y="410.4" width="9.29" height="8.6" fill="#404788"/>
<rect x="361.55" y="410.4" width="9.29" height="8.6" fill="#39568C"/>
<rect x="370.54" y="410.4" width="9.29" height="8.6" fill="#33638D"/>
<rect x="379.53" y="410.4" width="9.29" height="8.6" fill="#2D708E"/>
<rect x="388.52" y="410.4" width="9.29" height="8.6" fill="#287D8E"/>
<rect x="397.51" y="410.4" width="9.29" height="8.6" fill="#1F968B"/>
<rect x="406.49" y="410.4" width="9.29" height="8.6" fill="#20A387"/>
<rect x="415.48" y="410.4" width="9.29" height="8.6" fill="#29AF7F"/>
<rect x="424.47" y="410.4" width="9.29" height="8.6" fill="#3CBB75"/>
<rect x="433.46" y="410.4" width="9.29" height="8.6" fill="#55C667"/>
<rect x="442.45" y="410.4" width="9.29" height="8.6" fill="#73D055"/>
<rect x="451.44" y="410.4" width="9.29" height="8.6" fill="#95D840"/>
<rect x="460.43" y="410.4" width="9.29" height="8.6" fill="#B8DE29"/>
<rect x="469.42" y="410.4" width="9.29" height="8.6" fill="#DCE319"/>
<rect x="478.41" y="410.4" width="9.29" height="8.6" fill="#FDE725"/>
<line x1="325.6" y1="419" x2="325.6" y2="420.4" stroke="#333" stroke-width="0.5"/>
<text x="325.6" y="426.6" font-size="6.6" text-anchor="middle" font-weight="normal" fill="#1a1a1a" textLength="16" lengthAdjust="spacingAndGlyphs" >-0.21</text>
<line x1="343.5" y1="419" x2="343.5" y2="420.4" stroke="#333" stroke-width="0.5"/>
<text x="343.5" y="426.6" font-size="6.6" text-anchor="middle" font-weight="normal" fill="#1a1a1a" textLength="16" lengthAdjust="spacingAndGlyphs" >-0.16</text>
<line x1="361.4" y1="419" x2="361.4" y2="420.4" stroke="#333" stroke-width="0.5"/>
<text x="361.4" y="426.6" font-size="6.6" text-anchor="middle" font-weight="normal" fill="#1a1a1a" textLength="16" lengthAdjust="spacingAndGlyphs" >-0.11</text>
<line x1="379.3" y1="419" x2="379.3" y2="420.4" stroke="#333" stroke-width="0.5"/>
<text x="379.3" y="426.6" font-size="6.6" text-anchor="middle" font-weight="normal" fill="#1a1a1a" textLength="16" lengthAdjust="spacingAndGlyphs" >-0.06</text>
<line x1="397.2" y1="419" x2="397.2" y2="420.4" stroke="#333" stroke-width="0.5"/>
<text x="397.2" y="426.6" font-size="6.6" text-anchor="middle" font-weight="normal" fill="#1a1a1a" textLength="16" lengthAdjust="spacingAndGlyphs" >-0.01</text>
<line x1="415.1" y1="419" x2="415.1" y2="420.4" stroke="#333" stroke-width="0.5"/>
<text x="415.1" y="426.6" font-size="6.6" text-anchor="middle" font-weight="normal" fill="#1a1a1a" textLength="13" lengthAdjust="spacingAndGlyphs" >0.04</text>
<line x1="433.0" y1="419" x2="433.0" y2="420.4" stroke="#333" stroke-width="0.5"/>
<text x="433.0" y="426.6" font-size="6.6" text-anchor="middle" font-weight="normal" fill="#1a1a1a" textLength="13" lengthAdjust="spacingAndGlyphs" >0.09</text>
<line x1="450.9" y1="419" x2="450.9" y2="420.4" stroke="#333" stroke-width="0.5"/>
<text x="450.9" y="426.6" font-size="6.6" text-anchor="middle" font-weight="normal" fill="#1a1a1a" textLength="13" lengthAdjust="spacingAndGlyphs" >0.14</text>
<line x1="468.8" y1="419" x2="468.8" y2="420.4" stroke="#333" stroke-width="0.5"/>
<text x="468.8" y="426.6" font-size="6.6" text-anchor="middle" font-weight="normal" fill="#1a1a1a" textLength="13" lengthAdjust="spacingAndGlyphs" >0.19</text>
<line x1="486.7" y1="419" x2="486.7" y2="420.4" stroke="#333" stroke-width="0.5"/>
<text x="486.7" y="426.6" font-size="6.6" text-anchor="middle" font-weight="normal" fill="#1a1a1a" textLength="13" lengthAdjust="spacingAndGlyphs" >0.24</text>
<text x="402.2" y="434.2" font-size="7" text-anchor="middle" font-weight="normal" fill="#1a1a1a" textLength="110.4" lengthAdjust="spacingAndGlyphs" >Simulated Vertical Velocity [cm/a]</text>
<g id="table">
<rect x="57" y="455" width="392.6" height="42.5" fill="#4472C4"/>
<rect x="57" y="499" width="392.6" height="12.9" fill="#CFD5EA"/>
<rect x="57" y="512.3" width="392.6" height="13.1" fill="#E9EBF5"/>
<rect x="57" y="525.8" width="392.6" height="13.0" fill="#CFD5EA"/>
<rect x="57" y="539.2" width="392.6" height="13.1" fill="#E9EBF5"/>
<rect x="57" y="552.7" width="392.6" height="13.1" fill="#CFD5EA"/>
<rect x="57" y="566.2" width="392.6" height="13.1" fill="#E9EBF5"/>
<rect x="57" y="579.7" width="392.6" height="12.9" fill="#CFD5EA"/>
<line x1="130.3" y1="455" x2="130.3" y2="593" stroke="#fff" stroke-width="0.7"/>
<line x1="191.3" y1="455" x2="191.3" y2="593" stroke="#fff" stroke-width="0.7"/>
<line x1="239.8" y1="455" x2="239.8" y2="593" stroke="#fff" stroke-width="0.7"/>
<line x1="287.6" y1="455" x2="287.6" y2="593" stroke="#fff" stroke-width="0.7"/>
<line x1="341.6" y1="455" x2="341.6" y2="593" stroke="#fff" stroke-width="0.7"/>
<line x1="395.6" y1="455" x2="395.6" y2="593" stroke="#fff" stroke-width="0.7"/>
<line x1="57" y1="498.2" x2="449.6" y2="498.2" stroke="#fff" stroke-width="1.6"/>
<text transform="translate(60.6,464.2) scale(0.84,1)" font-size="7.6" font-weight="bold" fill="#fff">Layer</text>
<text transform="translate(133.9,464.2) scale(0.84,1)" font-size="7.6" font-weight="bold" fill="#fff">Density Lower</text>
<text transform="translate(133.9,473.3) scale(0.84,1)" font-size="7.6" font-weight="bold" fill="#fff">Bound (kg/m³)</text>
<text transform="translate(194.9,464.2) scale(0.84,1)" font-size="7.6" font-weight="bold" fill="#fff">Density</text>
<text transform="translate(194.9,473.3) scale(0.84,1)" font-size="7.6" font-weight="bold" fill="#fff">Upper Bound</text>
<text transform="translate(194.9,482.4) scale(0.84,1)" font-size="7.6" font-weight="bold" fill="#fff">(kg/m³)</text>
<text transform="translate(243.4,464.2) scale(0.84,1)" font-size="7.6" font-weight="bold" fill="#fff">Density</text>
<text transform="translate(243.4,473.3) scale(0.84,1)" font-size="7.6" font-weight="bold" fill="#fff">Reference</text>
<text transform="translate(243.4,482.4) scale(0.84,1)" font-size="7.6" font-weight="bold" fill="#fff">(kg/m³)</text>
<text transform="translate(291.2,464.2) scale(0.84,1)" font-size="7.6" font-weight="bold" fill="#fff">Viscosity</text>
<text transform="translate(291.2,473.3) scale(0.84,1)" font-size="7.6" font-weight="bold" fill="#fff">Lower Bound</text>
<text transform="translate(291.2,482.4) scale(0.84,1)" font-size="7.6" font-weight="bold" fill="#fff">(Pa s)</text>
<text transform="translate(345.2,464.2) scale(0.84,1)" font-size="7.6" font-weight="bold" fill="#fff">Viscosity</text>
<text transform="translate(345.2,473.3) scale(0.84,1)" font-size="7.6" font-weight="bold" fill="#fff">Upper Bound</text>
<text transform="translate(345.2,482.4) scale(0.84,1)" font-size="7.6" font-weight="bold" fill="#fff">(Pa s)</text>
<text transform="translate(399.2,464.2) scale(0.84,1)" font-size="7.6" font-weight="bold" fill="#fff">Viscosity</text>
<text transform="translate(399.2,473.3) scale(0.84,1)" font-size="7.6" font-weight="bold" fill="#fff">Reference</text>
<text transform="translate(399.2,482.4) scale(0.84,1)" font-size="7.6" font-weight="bold" fill="#fff">(Pa s)</text>
<text transform="translate(60.6,507.3) scale(0.9,1)" font-size="7.6" fill="#222">Sticky Air</text>
<text transform="translate(133.9,507.3) scale(0.9,1)" font-size="7.6" fill="#222">1</text>
<text transform="translate(194.9,507.3) scale(0.9,1)" font-size="7.6" fill="#222">1</text>
<text transform="translate(243.4,507.3) scale(0.9,1)" font-size="7.6" fill="#222">1</text>
<text transform="translate(291.2,507.3) scale(0.9,1)" font-size="7.6" fill="#222">1·10<tspan font-size="4.6" dy="-2.6">18</tspan></text>
<text transform="translate(345.2,507.3) scale(0.9,1)" font-size="7.6" fill="#222">1·10<tspan font-size="4.6" dy="-2.6">18</tspan></text>
<text transform="translate(399.2,507.3) scale(0.9,1)" font-size="7.6" fill="#222">1·10<tspan font-size="4.6" dy="-2.6">18</tspan></text>
<text transform="translate(60.6,520.8) scale(0.9,1)" font-size="7.6" fill="#222">Sediments</text>
<text transform="translate(133.9,520.8) scale(0.9,1)" font-size="7.6" fill="#222">2400</text>
<text transform="translate(194.9,520.8) scale(0.9,1)" font-size="7.6" fill="#222">2650</text>
<text transform="translate(243.4,520.8) scale(0.9,1)" font-size="7.6" fill="#222">2450</text>
<text transform="translate(291.2,520.8) scale(0.9,1)" font-size="7.6" fill="#222">1·10<tspan font-size="4.6" dy="-2.6">20</tspan></text>
<text transform="translate(345.2,520.8) scale(0.9,1)" font-size="7.6" fill="#222">1·10<tspan font-size="4.6" dy="-2.6">23</tspan></text>
<text transform="translate(399.2,520.8) scale(0.9,1)" font-size="7.6" fill="#222">1·10<tspan font-size="4.6" dy="-2.6">22</tspan></text>
<text transform="translate(60.6,534.3) scale(0.9,1)" font-size="7.6" fill="#222">Upper Crust</text>
<text transform="translate(133.9,534.3) scale(0.9,1)" font-size="7.6" fill="#222">2650</text>
<text transform="translate(194.9,534.3) scale(0.9,1)" font-size="7.6" fill="#222">2850</text>
<text transform="translate(243.4,534.3) scale(0.9,1)" font-size="7.6" fill="#222">2750</text>
<text transform="translate(291.2,534.3) scale(0.9,1)" font-size="7.6" fill="#222">1·10<tspan font-size="4.6" dy="-2.6">20</tspan></text>
<text transform="translate(345.2,534.3) scale(0.9,1)" font-size="7.6" fill="#222">1·10<tspan font-size="4.6" dy="-2.6">23</tspan></text>
<text transform="translate(399.2,534.3) scale(0.9,1)" font-size="7.6" fill="#222">1·10<tspan font-size="4.6" dy="-2.6">22</tspan></text>
<text transform="translate(60.6,547.8) scale(0.9,1)" font-size="7.6" fill="#222">Lower Crust</text>
<text transform="translate(133.9,547.8) scale(0.9,1)" font-size="7.6" fill="#222">2750</text>
<text transform="translate(194.9,547.8) scale(0.9,1)" font-size="7.6" fill="#222">3000</text>
<text transform="translate(243.4,547.8) scale(0.9,1)" font-size="7.6" fill="#222">2950</text>
<text transform="translate(291.2,547.8) scale(0.9,1)" font-size="7.6" fill="#222">1·10<tspan font-size="4.6" dy="-2.6">20</tspan></text>
<text transform="translate(345.2,547.8) scale(0.9,1)" font-size="7.6" fill="#222">1·10<tspan font-size="4.6" dy="-2.6">23</tspan></text>
<text transform="translate(399.2,547.8) scale(0.9,1)" font-size="7.6" fill="#222">1·10<tspan font-size="4.6" dy="-2.6">22</tspan></text>
<text transform="translate(60.6,561.3) scale(0.9,1)" font-size="7.6" fill="#222">Lithospheric Mantle</text>
<text transform="translate(133.9,561.3) scale(0.9,1)" font-size="7.6" fill="#222">3200</text>
<text transform="translate(194.9,561.3) scale(0.9,1)" font-size="7.6" fill="#222">3380</text>
<text transform="translate(243.4,561.3) scale(0.9,1)" font-size="7.6" fill="#222">3370</text>
<text transform="translate(291.2,561.3) scale(0.9,1)" font-size="7.6" fill="#222">1·10<tspan font-size="4.6" dy="-2.6">20</tspan></text>
<text transform="translate(345.2,561.3) scale(0.9,1)" font-size="7.6" fill="#222">1·10<tspan font-size="4.6" dy="-2.6">23</tspan></text>
<text transform="translate(399.2,561.3) scale(0.9,1)" font-size="7.6" fill="#222">1·10<tspan font-size="4.6" dy="-2.6">22</tspan></text>
<text transform="translate(60.6,574.8) scale(0.9,1)" font-size="7.6" fill="#222">Slab</text>
<text transform="translate(133.9,574.8) scale(0.9,1)" font-size="7.6" fill="#222">3200</text>
<text transform="translate(194.9,574.8) scale(0.9,1)" font-size="7.6" fill="#222">3380</text>
<text transform="translate(243.4,574.8) scale(0.9,1)" font-size="7.6" fill="#222">3370</text>
<text transform="translate(291.2,574.8) scale(0.9,1)" font-size="7.6" fill="#222">1·10<tspan font-size="4.6" dy="-2.6">20</tspan></text>
<text transform="translate(345.2,574.8) scale(0.9,1)" font-size="7.6" fill="#222">1·10<tspan font-size="4.6" dy="-2.6">23</tspan></text>
<text transform="translate(399.2,574.8) scale(0.9,1)" font-size="7.6" fill="#222">1·10<tspan font-size="4.6" dy="-2.6">22</tspan></text>
<text transform="translate(60.6,588.3) scale(0.9,1)" font-size="7.6" fill="#222">Asthenosphere</text>
<text transform="translate(133.9,588.3) scale(0.9,1)" font-size="7.6" fill="#222">3200</text>
<text transform="translate(194.9,588.3) scale(0.9,1)" font-size="7.6" fill="#222">3300</text>
<text transform="translate(243.4,588.3) scale(0.9,1)" font-size="7.6" fill="#222">3300</text>
<text transform="translate(291.2,588.3) scale(0.9,1)" font-size="7.6" fill="#222">5·10<tspan font-size="4.6" dy="-2.6">20</tspan></text>
<text transform="translate(345.2,588.3) scale(0.9,1)" font-size="7.6" fill="#222">1·10<tspan font-size="4.6" dy="-2.6">21</tspan></text>
<text transform="translate(399.2,588.3) scale(0.9,1)" font-size="7.6" fill="#222">1·10<tspan font-size="4.6" dy="-2.6">20</tspan></text>
</g>
</svg></body></html>
